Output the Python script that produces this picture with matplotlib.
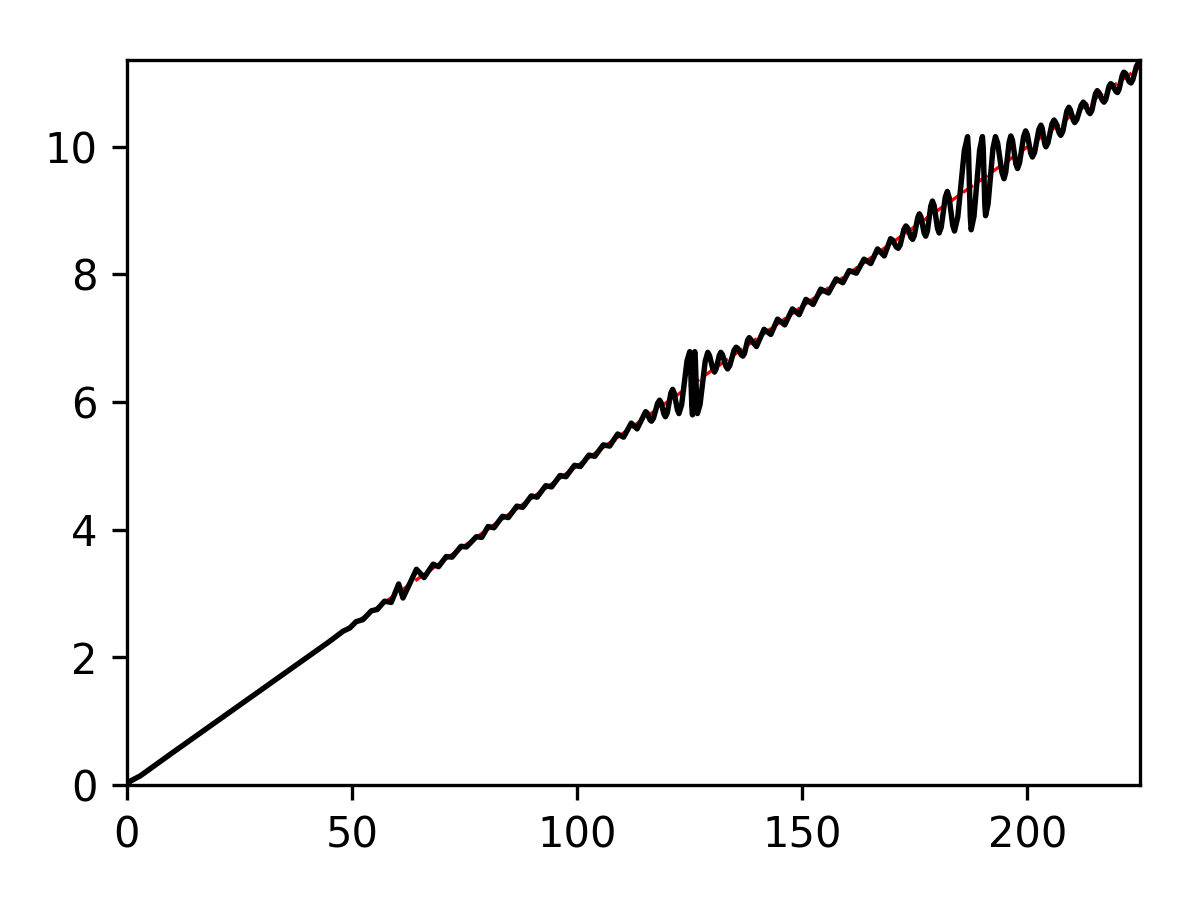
import numpy as np
import matplotlib
matplotlib.use('Agg')
import matplotlib.pyplot as plt

# red dashed reference line (end points)
ref_x = [0, 225]
ref_y = [0, 11.25]

# black curve, vertices
curve_x = [0, 0.7, 2.9, 10, 20, 30, 40, 45, 48.0, 49.5, 50.9, 52.4, 54.3, 55.6, 57.2, 58.7,
           60.35, 61.3, 64.3, 66.0, 68.0, 69.2, 70.9, 72.2, 74.2, 75.4, 77.6, 78.8,
           80.2, 81.5, 83.4, 84.7, 86.6, 87.9, 89.8, 91.1, 93.0, 94.3, 96.2, 97.5,
           99.4, 100.7, 102.6, 103.9, 105.8, 107.2, 109.0, 110.3, 112.0, 113.3,
           115.2, 115.53, 116.18, 116.5, 116.95, 117.85, 118.3, 118.63, 119.28, 119.6,
           120.0, 120.8, 121.2, 121.55, 122.25, 122.6,
           123.2, 124.4, 125.0, 125.15, 125.45, 125.6, 125.73, 125.98, 126.1, 126.25,
           126.55, 126.7, 127.28, 128.43, 129.0, 129.38, 130.13, 130.5, 130.85, 131.55,
           131.9, 132.28, 133.03, 133.4, 133.88, 134.83, 135.3, 135.68, 136.43, 136.8,
           137.15, 137.85, 138.2,
           139.8, 141.5, 143.0, 144.5, 146.1, 147.8, 149.3, 150.8, 152.4, 154.1,
           155.8, 157.5, 159.0, 160.4, 162.0, 163.7, 165.2, 166.7, 168.2,
           169.6, 170.03, 170.88, 171.3, 171.73, 172.58, 173.0, 173.38, 174.13, 174.5,
           174.88, 175.63, 176.0, 176.35, 177.05, 177.4, 177.78, 178.53, 178.9, 179.28,
           180.03, 180.4, 180.85, 181.75, 182.2, 182.6, 183.4, 183.8,
           184.53, 185.98, 186.7, 186.9, 187.3, 187.5, 188.13, 189.38, 190.0, 190.18,
           190.53, 190.7, 191.25, 192.35, 192.9,
           193.38, 194.33, 194.8, 195.18, 195.93, 196.3, 196.68, 197.43, 197.8, 198.25,
           199.15, 199.6, 199.98, 200.73, 201.1, 201.58, 202.53, 203.0, 203.28, 203.83,
           204.1, 204.55, 205.45, 205.9, 206.28, 207.03, 207.4, 207.85, 208.75, 209.2,
           209.53, 210.18, 210.5, 210.98, 211.93, 212.4, 212.78, 213.53, 213.9, 214.3,
           215.1, 215.5, 215.88, 216.63, 217.0, 217.38, 218.13, 218.5, 218.88, 219.63,
           220.0, 220.35, 221.05, 221.4, 221.8, 222.6, 223.0, 223.4, 224.2, 225.0]
curve_y = [0, 0.06, 0.14, 0.50, 1.00, 1.50, 2.00, 2.25, 2.41, 2.46, 2.56, 2.59, 2.73, 2.75, 2.88, 2.86,
           3.15, 2.93, 3.38, 3.25, 3.46, 3.42, 3.58, 3.57, 3.74, 3.73, 3.89, 3.88,
           4.05, 4.03, 4.21, 4.19, 4.37, 4.35, 4.53, 4.51, 4.69, 4.67, 4.85, 4.83,
           5.01, 4.99, 5.17, 5.15, 5.33, 5.31, 5.50, 5.45, 5.67, 5.58,
           5.85, 5.83, 5.72, 5.70, 5.75, 5.98, 6.03, 5.99, 5.81, 5.77,
           5.83, 6.14, 6.20, 6.14, 5.88, 5.82,
           5.96, 6.65, 6.79, 6.65, 5.94, 5.80, 5.94, 6.65, 6.79, 6.65,
           5.96, 5.82, 5.96, 6.64, 6.78, 6.73, 6.52, 6.47, 6.52, 6.73,
           6.78, 6.74, 6.56, 6.52, 6.57, 6.81, 6.86, 6.84, 6.74, 6.72,
           6.76, 6.97, 7.01,
           6.87, 7.14, 7.06, 7.30, 7.21, 7.46, 7.37, 7.61, 7.53, 7.77,
           7.71, 7.93, 7.87, 8.06, 8.02, 8.24, 8.17, 8.40, 8.29,
           8.56, 8.54, 8.43, 8.41, 8.46, 8.71, 8.76, 8.73, 8.58, 8.55,
           8.61, 8.89, 8.95, 8.90, 8.65, 8.60, 8.68, 9.07, 9.15, 9.08,
           8.72, 8.65, 8.74, 9.21, 9.30, 9.21, 8.77, 8.68,
           8.90, 9.94, 10.16, 9.95, 8.91, 8.70, 8.91, 9.95, 10.16, 9.98,
           9.10, 8.92, 9.10, 9.98, 10.16,
           10.06, 9.60, 9.50, 9.60, 10.07, 10.17, 10.10, 9.73, 9.66, 9.75,
           10.16, 10.25, 10.19, 9.90, 9.84, 9.91, 10.27, 10.34, 10.29, 10.05,
           10.00, 10.06, 10.36, 10.42, 10.38, 10.22, 10.18, 10.24, 10.56, 10.62,
           10.58, 10.42, 10.38, 10.43, 10.65, 10.70, 10.67, 10.55, 10.52, 10.57,
           10.83, 10.88, 10.85, 10.73, 10.70, 10.74, 10.95, 10.99, 10.97, 10.87,
           10.85, 10.90, 11.12, 11.17, 11.15, 11.02, 11.00, 11.05, 11.26, 11.36]

fig = plt.figure(figsize=(4, 3), dpi=300)
ax = fig.add_axes([0.1058, 0.1278, 0.8442, 0.8055])
ax.plot(ref_x, ref_y, color='red', linestyle='--', linewidth=0.8)
ax.plot(curve_x, curve_y, color='black', linewidth=1.3)
ax.set_xlim(0, 225)
ax.set_ylim(0, 11.36)

fig.savefig('out.png', dpi=300)
